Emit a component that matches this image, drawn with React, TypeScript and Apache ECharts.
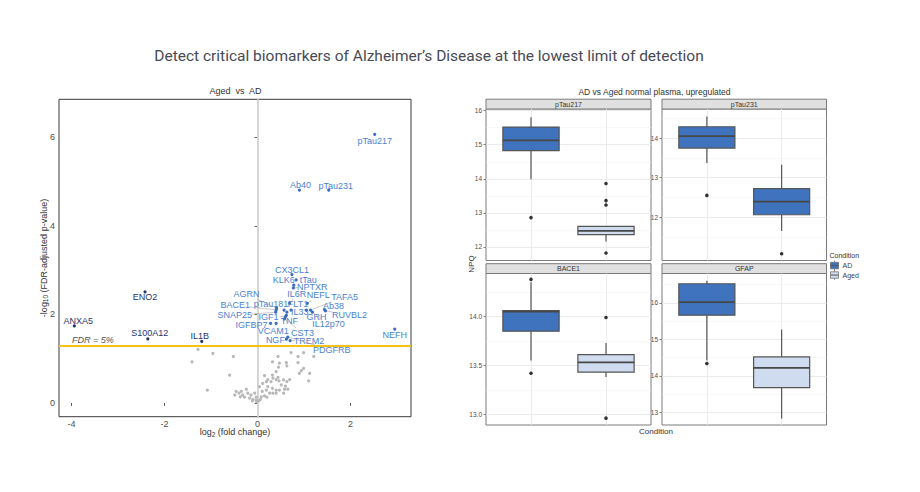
import React, { useEffect, useRef } from "react";
import * as echarts from "echarts";

const FONT = "'Liberation Sans', Arial, Helvetica, sans-serif";

// ---------- Volcano data ----------
const labeledGenes = [
  "pTau217", "Ab40", "pTau231", "ANXA5", "ENO2", "S100A12", "IL1B", "NEFH", "CX3CL1", "tTau", "KLK6",
  "NPTXR", "IL6R", "NEFL", "TAFA5", "FLT1", "pTau181", "BACE1", "AGRN", "SNAP25", "IL33", "GRH",
  "Ab38", "RUVBL2", "IGF1", "TNF", "IL12p70", "IGFBP7", "VCAM1", "CST3", "NGF", "TREM2", "PDGFRB",
];
const labeledLog2FC = [
  2.52, 0.9, 1.53, -3.94, -2.42, -2.36, -1.2, 2.95, 0.74, 0.83, 0.78,
  0.77, 0.69, 1.07, 1.14, 0.72, 0.57, 0.4, 0.41, 0.39, 0.63, 1.05,
  1.44, 1.46, 0.6, 0.62, 1.18, 0.28, 0.4, 0.58, 0.62, 0.7, 0.65,
];
const labeledNegLog10FDR = [
  6.07, 4.81, 4.81, 1.74, 2.51, 1.45, 1.39, 1.67, 2.9, 2.78, 2.66,
  2.6, 2.25, 2.25, 2.1, 2.1, 2.1, 2.1, 2.14, 2.05, 2.05, 2.1,
  2.11, 2.08, 1.95, 1.98, 2.05, 1.8, 1.8, 1.9, 1.44, 1.41, 1.49,
];
// label nudges in pixels (layout only)
const labelNudges = [
  [0, 7], [1, -5], [7, -4], [4, -5], [0, 5], [2, -6], [-2, -5], [0, 6], [0, -5], [12, 0], [-10, -5],
  [19, -1], [7, -9], [11, -8], [34, -13], [7, -6], [-13, -6], [-41, -5], [-30, -14], [-41, 3], [13, 0], [10, 7],
  [9, -4], [24, 4], [-17, 0], [3, 6], [16, 12], [-19, 2], [-3, 8], [18, 14], [-11, 1], [19, 0], [44, 13],
];

const bgLog2FC = [
  -1.28, -0.96, -0.52, -1.41, -0.6, -1.08, 0.44, 0.72, 0.87, 0.99,
  1.21, 0.32, 0.47, 0.62, 0.63, 0.87, 0.99, 0.94, 0.9, 1.12,
  1.1, 0.45, 0.4, 0.32, 0.15, 0.22, 0.33, 0.4, 0.44, 0.46,
  0.29, 0.19, 0.11, 0.56, 0.63, 0.69, 0.04, 0.22, 0.32, 0.4,
  0.47, 0.58, 0.19, 0.1, 0.26, 0.33, 0.4, 0.56, -0.24, -0.35,
  -0.4, -0.49, -0.32, -0.21, -0.14, -0.06, -0.28, -0.17, -0.1, -0.03,
  0.03, 0.06, -0.03, 0.15, 0.2, 0.08, -0.37, -0.46, 0.51, 0.6,
  0.65, -0.02, -0.11,
];
const bgNegLog10FDR = [
  1.21, 1.12, 1.05, 0.93, 0.63, 0.29, 1.05, 1.14, 1.05, 1.14,
  1.05, 0.93, 0.9, 0.91, 0.84, 0.91, 0.78, 0.73, 0.67, 0.67,
  0.5, 0.81, 0.71, 0.63, 0.62, 0.53, 0.56, 0.53, 0.58, 0.5,
  0.48, 0.48, 0.44, 0.52, 0.48, 0.53, 0.37, 0.37, 0.33, 0.29,
  0.29, 0.31, 0.29, 0.26, 0.22, 0.22, 0.22, 0.22, 0.31, 0.26,
  0.22, 0.18, 0.18, 0.22, 0.18, 0.22, 0.13, 0.11, 0.08, 0.07,
  0.05, 0.08, 0.13, 0.16, 0.13, 0.14, 0.14, 0.26, 0.41, 0.38,
  0.31, 0.03, 0.05,
];
const fdrThreshold = 1.301;
const volcanoXTicks = [-4, -2, 0, 2];
const volcanoYTicks = [0, 2, 4, 6];

// ---------- Box plot data ----------
const boxProteins = ["pTau217", "pTau231", "BACE1", "GFAP"];
const conditions = ["AD", "Aged"];
// [lower whisker, Q1, median, Q3, upper whisker]
const adStats = [
  [13.99, 14.83, 15.13, 15.52, 15.81],
  [13.37, 13.75, 14.05, 14.29, 14.55],
  [13.55, 13.85, 14.05, 14.06, 14.35],
  [14.42, 15.66, 16.02, 16.52, 16.6],
];
const agedStats = [
  [12.16, 12.36, 12.47, 12.6, 12.6],
  [11.65, 12.06, 12.39, 12.72, 13.33],
  [13.38, 13.43, 13.53, 13.61, 13.73],
  [12.84, 13.68, 14.22, 14.52, 15.27],
];
const adOutliers = [[12.86], [12.55], [14.38, 13.42], [14.34]];
const agedOutliers = [[13.86, 13.36, 13.23, 11.82], [11.07], [13.99, 12.96], []];
const facetYTicks = [[12, 13, 14, 15, 16], [12, 13, 14], [13, 13.5, 14], [13, 14, 15, 16]];
const facetYRange = [[11.6, 16.05], [10.9, 14.74], [12.89, 14.44], [12.66, 16.8]];

// ---------- styles ----------
const AD_FILL = "#3f73be";
const AGED_FILL = "#cfdcef";
const facetBoxFills = [
  [AD_FILL, AGED_FILL],
  [AD_FILL, AD_FILL],
  [AD_FILL, AGED_FILL],
  [AD_FILL, AGED_FILL],
];
const UP_TEXT = "#4a82d0";
const UP_POINT = "#3a6cc0";
const DOWN_TEXT = "#28346c";
const DOWN_POINT = "#28346c";

const facetGrids = [
  { left: 486, top: 109, width: 165, height: 151.5 },
  { left: 662, top: 109, width: 164.5, height: 151.5 },
  { left: 486, top: 273.5, width: 165, height: 151.5 },
  { left: 662, top: 273.5, width: 164.5, height: 151.5 },
];
const STRIP_H = 9.8;

function minorValues(ticks: number[], range: number[]) {
  const step = ticks.length > 1 ? ticks[1] - ticks[0] : 1;
  const out: number[] = [];
  let v = ticks[0] - step / 2;
  while (v - step >= range[0]) v -= step;
  for (; v <= range[1]; v += step) if (v >= range[0]) out.push(+v.toFixed(4));
  return out;
}

function txt(text: string, x: number, y: number, size: number, fill: string, extra: any = {}) {
  return {
    type: "text",
    x,
    y,
    silent: true,
    ...(extra.el || {}),
    style: {
      text,
      fontSize: size,
      fontFamily: extra.family || FONT,
      fill,
      align: extra.align || "center",
      textAlign: extra.align || "center",
      verticalAlign: "middle",
      textVerticalAlign: "middle",
      fontStyle: extra.fontStyle || "normal",
    },
  };
}

function legendKey(y: number, fill: string, label: string) {
  const x = 830.5;
  return [
    { type: "line", shape: { x1: x + 4, y1: y - 1.8, x2: x + 4, y2: y }, style: { stroke: "#666", lineWidth: 0.7 } },
    { type: "line", shape: { x1: x + 4, y1: y + 6.5, x2: x + 4, y2: y + 8.3 }, style: { stroke: "#666", lineWidth: 0.7 } },
    { type: "rect", shape: { x, y, width: 8, height: 6.5 }, style: { fill, stroke: "#666", lineWidth: 0.7 } },
    { type: "line", shape: { x1: x, y1: y + 3.25, x2: x + 8, y2: y + 3.25 }, style: { stroke: "#555", lineWidth: 1 } },
    txt(label, x + 12, y + 3.3, 7, "#444", { align: "left" }),
  ];
}

export default function App() {
  const ref = useRef<HTMLDivElement>(null);

  useEffect(() => {
    if (!ref.current) return;
    const chart = echarts.init(ref.current, undefined, { renderer: "svg" });

    const grids: any[] = [
      { left: 59, top: 99.3, width: 352, height: 317.4, show: true, borderColor: "#3a3a3a", borderWidth: 1, backgroundColor: "transparent" },
      ...facetGrids.map((g) => ({ ...g, show: true, borderColor: "#7a7a7a", borderWidth: 1, backgroundColor: "transparent" })),
    ];

    const nameStyle = {
      fontSize: 9,
      color: "#333",
      fontFamily: FONT,
      lineHeight: 11,
      rich: { s: { fontSize: 6.5, fontFamily: FONT, color: "#333", verticalAlign: "bottom", lineHeight: 7 } },
    };

    const xAxes: any[] = [
      {
        gridIndex: 0,
        type: "value",
        min: -4.27,
        max: 3.3,
        splitLine: { show: false },
        axisLine: { show: false },
        axisTick: { show: true, customValues: volcanoXTicks, length: 3, lineStyle: { color: "#333", width: 0.8 } },
        axisLabel: { customValues: volcanoXTicks, fontSize: 9, color: "#4d4d4d", margin: 3, fontFamily: FONT },
        name: "log{s|2} (fold change)",
        nameLocation: "middle",
        nameGap: 10,
        nameMoveOverlap: false,
        nameTextStyle: nameStyle,
      },
      ...facetGrids.map((_, i) => ({
        gridIndex: i + 1,
        type: "value",
        min: 0.4,
        max: 2.6,
        axisLine: { show: false },
        axisTick: { show: false },
        axisLabel: { show: false },
        splitLine: { show: false },
      })),
    ];

    const yAxes: any[] = [
      {
        gridIndex: 0,
        type: "value",
        min: -0.31,
        max: 6.86,
        splitLine: { show: false },
        axisLine: { show: false },
        axisTick: { show: true, customValues: volcanoYTicks, length: 3, lineStyle: { color: "#333", width: 0.8 } },
        axisLabel: { customValues: volcanoYTicks, fontSize: 9, color: "#4d4d4d", margin: 4, fontFamily: FONT },
        name: "-log{s|10} (FDR-adjusted p-value)",
        nameLocation: "middle",
        nameRotate: 90,
        nameGap: 10,
        nameMoveOverlap: false,
        nameTextStyle: nameStyle,
      },
      ...facetGrids.map((_, i) => ({
        gridIndex: i + 1,
        type: "value",
        min: facetYRange[i][0],
        max: facetYRange[i][1],
        splitLine: { show: false },
        axisLine: { show: false },
        axisTick: { show: true, customValues: facetYTicks[i], length: 2.5, lineStyle: { color: "#555", width: 0.7 } },
        axisLabel: {
          customValues: facetYTicks[i],
          fontSize: 6.5,
          color: "#4d4d4d",
          margin: 4,
          fontFamily: FONT,
          formatter: (v: number) => (i === 2 ? v.toFixed(1) : String(v)),
        },
      })),
    ];

    const series: any[] = [
      {
        type: "scatter",
        xAxisIndex: 0,
        yAxisIndex: 0,
        silent: true,
        z: 2,
        symbolSize: 3.2,
        itemStyle: { color: "#b8b8b8", opacity: 1 },
        data: bgLog2FC.map((x, i) => [x, bgNegLog10FDR[i]]),
        markLine: {
          silent: true,
          z: 1,
          symbol: ["none", "none"],
          animation: false,
          data: [
            { xAxis: 0, lineStyle: { color: "#d6d6d6", width: 2, type: "solid" }, label: { show: false } },
            {
              yAxis: fdrThreshold,
              lineStyle: { color: "#f5c211", width: 2, type: "solid" },
              label: {
                show: true,
                position: "insideStartTop",
                formatter: "FDR = 5%",
                fontStyle: "italic",
                color: "#555",
                fontSize: 9,
                fontFamily: FONT,
                padding: [0, 0, 0, 12],
                distance: 1,
              },
            },
          ],
        },
      },
      {
        type: "custom",
        xAxisIndex: 0,
        yAxisIndex: 0,
        z: 5,
        silent: true,
        clip: false,
        data: labeledGenes.map((_, i) => [labeledLog2FC[i], labeledNegLog10FDR[i], i]),
        renderItem: (params: any, api: any) => {
          const idx = api.value(2);
          const xv = api.value(0);
          const p = api.coord([xv, api.value(1)]);
          const [dx, dy] = labelNudges[idx];
          const name = labeledGenes[idx];
          const down = xv < 0;
          const cx = p[0] + dx;
          const cy = p[1] + dy;
          const hw = name.length * 2.55 + 1.5;
          const hh = 5;
          const children: any[] = [];
          if (Math.abs(dx) > hw || Math.abs(dy) > hh) {
            const vx = -dx;
            const vy = -dy;
            const t = Math.min(vx !== 0 ? hw / Math.abs(vx) : Infinity, vy !== 0 ? hh / Math.abs(vy) : Infinity);
            const ex = cx + vx * t;
            const ey = cy + vy * t;
            if (Math.hypot(p[0] - ex, p[1] - ey) > 3) {
              children.push({
                type: "line",
                shape: { x1: ex, y1: ey, x2: p[0], y2: p[1] },
                style: { stroke: "#a3a3a3", lineWidth: 0.6 },
              });
            }
          }
          children.push({
            type: "circle",
            shape: { cx: p[0], cy: p[1], r: 1.6 },
            style: { fill: down ? DOWN_POINT : UP_POINT },
          });
          children.push({
            type: "text",
            style: {
              text: name,
              x: cx,
              y: cy,
              align: "center",
              verticalAlign: "middle",
              textAlign: "center",
              textVerticalAlign: "middle",
              fill: down ? DOWN_TEXT : UP_TEXT,
              fontSize: 9,
              fontFamily: FONT,
            },
          });
          return { type: "group", children };
        },
      },
    ];

    boxProteins.forEach((_, f) => {
      const ticks = facetYTicks[f];
      const minors = minorValues(ticks, facetYRange[f]);
      series.push({
        type: "scatter",
        xAxisIndex: f + 1,
        yAxisIndex: f + 1,
        silent: true,
        z: 1,
        symbolSize: 0,
        data: [[1, ticks[0]]],
        markLine: {
          silent: true,
          z: 1,
          symbol: ["none", "none"],
          animation: false,
          label: { show: false },
          data: [
            ...minors.map((v) => ({ yAxis: v, lineStyle: { color: "#f3f3f3", width: 0.6, type: "solid" } })),
            ...ticks.map((v) => ({ yAxis: v, lineStyle: { color: "#e9e9e9", width: 0.9, type: "solid" } })),
            ...conditions.map((_, k) => ({ xAxis: k + 1, lineStyle: { color: "#e9e9e9", width: 0.9, type: "solid" } })),
          ],
        },
      });
      series.push({
        type: "custom",
        xAxisIndex: f + 1,
        yAxisIndex: f + 1,
        z: 3,
        silent: true,
        data: [
          [1, ...adStats[f]],
          [2, ...agedStats[f]],
        ],
        renderItem: (params: any, api: any) => {
          const x = api.value(0);
          const c = (v: number) => api.coord([x, v]);
          const pLow = c(api.value(1));
          const pQ1 = c(api.value(2));
          const pMed = c(api.value(3));
          const pQ3 = c(api.value(4));
          const pHigh = c(api.value(5));
          const half = api.size([0.75, 0])[0] / 2;
          const cx = pQ1[0];
          const fill = facetBoxFills[f][params.dataIndex];
          const st = { stroke: "#555", lineWidth: 1.2 };
          return {
            type: "group",
            children: [
              { type: "line", shape: { x1: cx, y1: pQ3[1], x2: cx, y2: pHigh[1] }, style: st },
              { type: "line", shape: { x1: cx, y1: pQ1[1], x2: cx, y2: pLow[1] }, style: st },
              { type: "rect", shape: { x: cx - half, y: pQ3[1], width: 2 * half, height: pQ1[1] - pQ3[1] }, style: { fill, ...st } },
              { type: "line", shape: { x1: cx - half, y1: pMed[1], x2: cx + half, y2: pMed[1] }, style: { stroke: "#474747", lineWidth: 1.7 } },
            ],
          };
        },
      });
      series.push({
        type: "scatter",
        xAxisIndex: f + 1,
        yAxisIndex: f + 1,
        silent: true,
        z: 4,
        symbolSize: 3.6,
        itemStyle: { color: "#333", opacity: 1, borderWidth: 0 },
        data: [...adOutliers[f].map((v) => [1, v]), ...agedOutliers[f].map((v) => [2, v])],
      });
    });

    const graphics: any[] = [
      txt("Detect critical biomarkers of Alzheimer\u2019s Disease at the lowest limit of detection", 429, 56, 15.5, "#474a55", {
        family: "Roboto, 'Liberation Sans', sans-serif",
      }),
      txt("Aged  vs  AD", 235.5, 91.3, 9, "#333"),
      txt("AD vs Aged normal plasma, upregulated", 654.5, 92, 8.5, "#333"),
      txt("NPQ", 471, 264, 8, "#333", { el: { rotation: Math.PI / 2 } }),
      txt("Condition", 656, 431, 8, "#333"),
      txt("Condition", 829.5, 255.5, 7, "#333", { align: "left" }),
      ...legendKey(262.3, AD_FILL, "AD"),
      ...legendKey(271.8, AGED_FILL, "Aged"),
    ];
    facetGrids.forEach((g, f) => {
      graphics.push({
        type: "rect",
        silent: true,
        shape: { x: g.left, y: g.top - STRIP_H, width: g.width, height: STRIP_H },
        style: { fill: "#e0e0e0", stroke: "#7a7a7a", lineWidth: 1 },
      });
      graphics.push(txt(boxProteins[f], g.left + g.width / 2, g.top - STRIP_H / 2, 7, "#333"));
    });

    chart.setOption({
      animation: false,
      textStyle: { fontFamily: FONT },
      grid: grids,
      xAxis: xAxes,
      yAxis: yAxes,
      series,
      graphic: { elements: graphics },
    });

    return () => chart.dispose();
  }, []);

  return (
    <div
      ref={ref}
      style={{ position: "absolute", left: 0, top: 0, width: 920, height: 492, background: "#fff" }}
    />
  );
}
